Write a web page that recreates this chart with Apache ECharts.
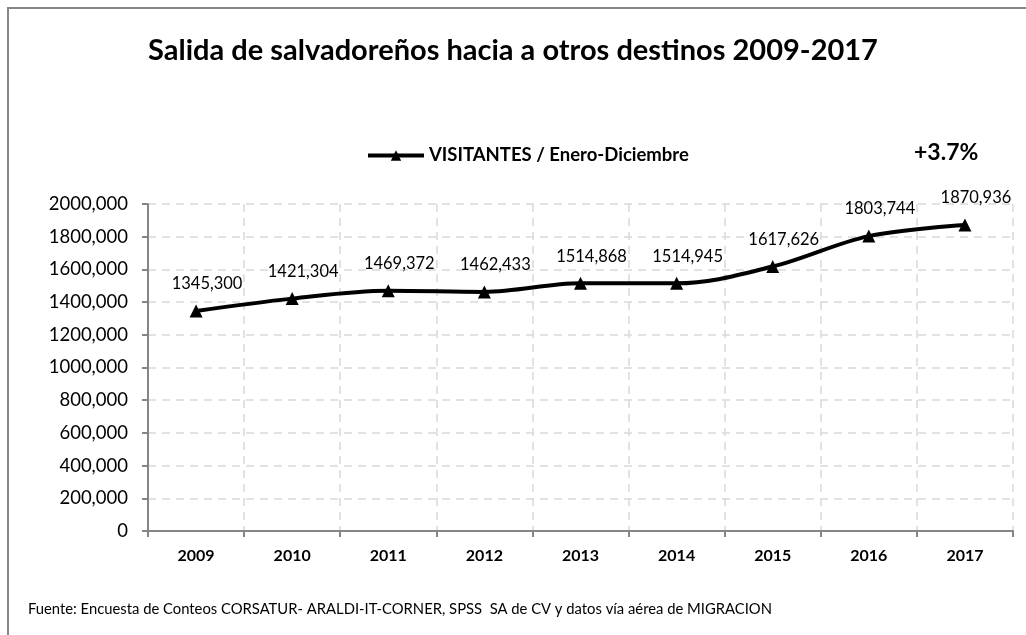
<!DOCTYPE html>
<html>
<head>
<meta charset="utf-8">
<script src="https://cdn.jsdelivr.net/npm/echarts@6/dist/echarts.min.js"></script>
<style>
  html, body { margin: 0; padding: 0; background: #fff; }
  #chart { width: 1026px; height: 635px; }
</style>
</head>
<body>
<div id="chart"></div>
<script>
// data
var years = ['2009', '2010', '2011', '2012', '2013', '2014', '2015', '2016', '2017']
var visitantes = [1345300, 1421304, 1469372, 1462433, 1514868, 1514945, 1617626, 1803744, 1870936]
var seriesName = 'VISITANTES / Enero-Diciembre'
var titleText = 'Salida de salvadoreños hacia a otros destinos 2009-2017'
var growthText = '+3.7%'
var sourceText = 'Fuente: Encuesta de Conteos CORSATUR- ARALDI-IT-CORNER, SPSS  SA de CV y datos vía aérea de MIGRACION'

var font = 'Lato, "Open Sans", sans-serif'

// 1345300 -> "1345,300"
function fmt(v) {
  if (v < 1000) return String(v)
  var rest = String(v % 1000)
  while (rest.length < 3) rest = '0' + rest
  return Math.floor(v / 1000) + ',' + rest
}

var chart = echarts.init(document.getElementById('chart'))

var option = {
  animation: false,
  backgroundColor: '#fff',
  textStyle: { fontFamily: font },
  title: {
    text: titleText,
    left: 'center',
    top: 31,
    textStyle: { fontSize: 29, fontWeight: 'bold', color: '#000', fontFamily: font }
  },
  legend: {
    data: [seriesName],
    left: 361,
    top: 141,
    itemWidth: 56,
    itemHeight: 13,
    itemGap: 4,
    lineStyle: { width: 4 },
    textStyle: { fontSize: 18.5, fontWeight: 'bold', color: '#000', fontFamily: font }
  },
  grid: { left: 148, right: 13, top: 204, bottom: 104, containLabel: false },
  xAxis: {
    type: 'category',
    data: years,
    boundaryGap: true,
    axisLine: { lineStyle: { color: '#868686', width: 2 } },
    axisTick: { show: true, length: 6, lineStyle: { color: '#868686', width: 2 } },
    axisLabel: { fontSize: 16, fontWeight: 'bold', color: '#000', margin: 17, fontFamily: font },
    splitLine: { show: true, interval: 0, lineStyle: { color: '#d9d9d9', type: [8, 6], width: 1.5 } }
  },
  yAxis: {
    type: 'value',
    min: 0,
    max: 2000000,
    interval: 200000,
    axisLine: { show: true, lineStyle: { color: '#868686', width: 2 } },
    axisTick: { show: true, length: 6, lineStyle: { color: '#868686', width: 2 } },
    axisLabel: { fontSize: 18.5, color: '#000', margin: 20, formatter: fmt, fontFamily: font },
    splitLine: { show: true, lineStyle: { color: '#d9d9d9', type: [8, 6], width: 1.5 } }
  },
  series: [{
    name: seriesName,
    type: 'line',
    data: visitantes,
    smooth: 0.35,
    symbol: 'triangle',
    symbolSize: 13,
    itemStyle: { color: '#000' },
    lineStyle: { color: '#000', width: 4 },
    label: {
      show: true,
      position: 'top',
      distance: 12,
      offset: [11, 0],
      fontSize: 16.5,
      color: '#000',
      fontFamily: font,
      formatter: function (p) { return fmt(p.value) }
    }
  }],
  graphic: [
    {
      type: 'rect',
      silent: true,
      shape: { x: 8, y: 8, width: 1060, height: 700 },
      style: { fill: 'none', stroke: '#868686', lineWidth: 2 }
    },
    {
      type: 'text',
      left: 914,
      top: 141,
      style: { text: growthText, fontSize: 23, fontWeight: 'bold', fill: '#000', fontFamily: font }
    },
    {
      type: 'text',
      left: 28,
      top: 602,
      style: { text: sourceText, fontSize: 14.8, fill: '#000', fontFamily: font }
    }
  ]
}

chart.setOption(option)
</script>
</body>
</html>
